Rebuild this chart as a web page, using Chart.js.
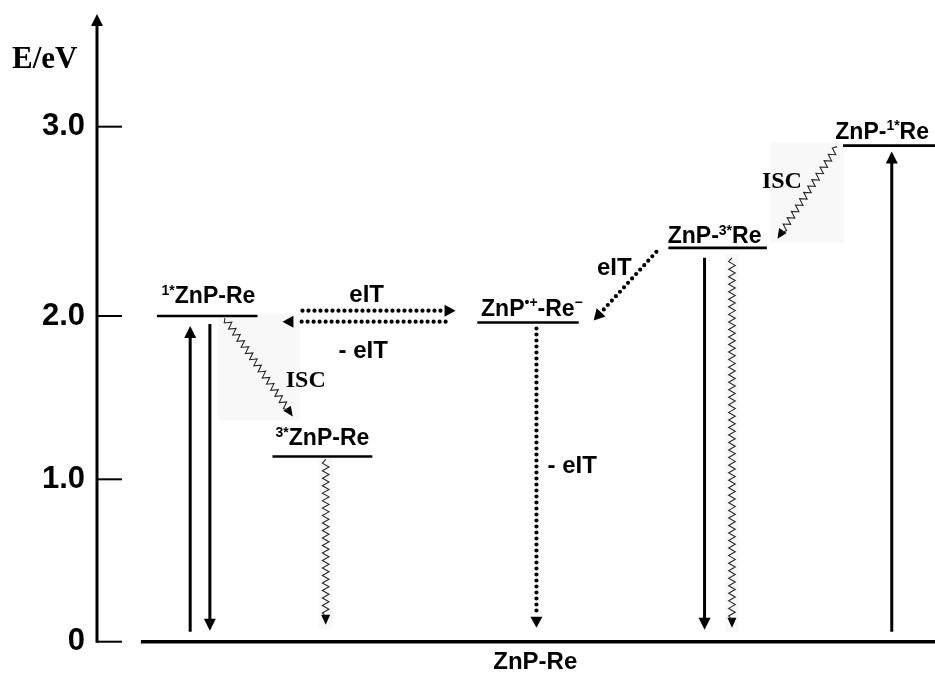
<!DOCTYPE html>
<html>
<head>
<meta charset="utf-8">
<script src="https://cdn.jsdelivr.net/npm/chart.js@4.4.1/dist/chart.umd.min.js"></script>
<style>
  html, body { margin: 0; padding: 0; background: #fff; }
</style>
</head>
<body>
<canvas id="levels" width="935" height="673"></canvas>
<script>
// energy levels (eV)
const states = ['ZnP-Re', '1*ZnP-Re', '3*ZnP-Re', 'ZnP•+-Re•-', 'ZnP-3*Re', 'ZnP-1*Re'];
const energies = [0, 2.0, 1.14, 1.96, 2.36, 2.90];

const tickValues = [0, 1, 2, 3];
const tickLabels = ['0', '1.0', '2.0', '3.0'];

// the drawing is not to scale: tick spacing grows towards the top
const axisBreaks = [[0, 0], [1, 0.2612], [2, 0.5239], [3, 0.8284], [3.564, 1]];

// label text, split into [text, isSuperscript]
const stateLabels = [
  [['ZnP-Re', 0]],
  [['1*', 1], ['ZnP-Re', 0]],
  [['3*', 1], ['ZnP-Re', 0]],
  [['ZnP', 0], ['•+', 1], ['-Re', 0], ['−', 1]],
  [['ZnP-', 0], ['3*', 1], ['Re', 0]],
  [['ZnP-', 0], ['1*', 1], ['Re', 0]]
];

// horizontal extent of each level (x axis runs 0..100)
const levelSpans = [[5.24, 100], [7.15, 19.15], [20.94, 32.86], [45.38, 57.49], [68.18, 79.94], [89.03, 100]];
// label anchor: x, px above the line, align
const labelAnchors = [[52.3, -27, 'center'], [13.3, 13, 'center'], [26.9, 11, 'center'],
                      [51.9, 7, 'center'], [73.7, 5, 'center'], [88.1, 7, 'left']];

// transitions between states
const arrows = [
  { kind: 'solid',  from: 0, to: 1, x: [11.12, 11.12], gap: [10, 10] },
  { kind: 'solid',  from: 1, to: 0, x: [13.47, 13.47], gap: [8, 11] },
  { kind: 'wavy',   from: 1, to: 2, x: [15.26, 23.36], gap: [2, 40] },
  { kind: 'wavy',   from: 2, to: 0, x: [27.29, 27.29], gap: [3, 17] },
  { kind: 'dotted', e: [2.028, 2.028], x: [24.52, 42.79] },
  { kind: 'dotted', e: [1.965, 1.965], x: [41.60, 22.13] },
  { kind: 'dotted', from: 3, to: 0, x: [52.44, 52.44], gap: [6, 14] },
  { kind: 'dotted', from: 4, to: 3, x: [66.75, 59.27], gap: [4, 2] },
  { kind: 'solid',  from: 4, to: 0, x: [72.50, 72.50], gap: [10, 12] },
  { kind: 'wavy',   from: 4, to: 0, x: [75.77, 75.77], gap: [10, 14] },
  { kind: 'solid',  from: 0, to: 5, x: [94.84, 94.84], gap: [10, 6] },
  { kind: 'wavy',   from: 5, to: 4, x: [88.32, 81.20], gap: [1, 9] }
];

const processLabels = [
  { text: 'eIT',   serif: false, x: 32.18, e: 2.076 },
  { text: '- eIT', serif: false, x: 31.76, e: 1.741 },
  { text: 'ISC',   serif: true,  x: 24.91, e: 1.563 },
  { text: '- eIT', serif: false, x: 56.70, e: 1.037 },
  { text: 'eIT',   serif: false, x: 61.73, e: 2.217 },
  { text: 'ISC',   serif: true,  x: 81.73, e: 2.675 }
];

const SANS = "'Liberation Sans', Arial, sans-serif";
const SERIF = "'Liberation Serif', 'Times New Roman', serif";

// linear scale with a piecewise mapping between the tick values
class BrokenEnergyScale extends Chart.LinearScale {
  toDecimal(v) {
    const b = axisBreaks;
    for (let i = 1; i < b.length; i++) {
      if (v <= b[i][0] || i === b.length - 1) {
        const [v0, d0] = b[i - 1], [v1, d1] = b[i];
        return d0 + (v - v0) * (d1 - d0) / (v1 - v0);
      }
    }
  }
  getPixelForValue(v) {
    return v == null ? NaN : this.getPixelForDecimal(this.toDecimal(v));
  }
  getValueForPixel(p) {
    const d = this.getDecimalForPixel(p);
    const b = axisBreaks;
    for (let i = 1; i < b.length; i++) {
      if (d <= b[i][1] || i === b.length - 1) {
        const [v0, d0] = b[i - 1], [v1, d1] = b[i];
        return v0 + (d - d0) * (v1 - v0) / (d1 - d0);
      }
    }
  }
}
BrokenEnergyScale.id = 'brokenEnergy';
BrokenEnergyScale.defaults = {};
Chart.register(BrokenEnergyScale);

function arrowEnds(a, xs, ys) {
  const e1 = a.e ? a.e[0] : energies[a.from];
  const e2 = a.e ? a.e[1] : energies[a.to];
  const p = { x: xs.getPixelForValue(a.x[0]), y: ys.getPixelForValue(e1) };
  const q = { x: xs.getPixelForValue(a.x[1]), y: ys.getPixelForValue(e2) };
  const g = a.gap || [0, 0];
  const s = Math.sign(q.y - p.y);
  p.y += s * g[0];
  q.y -= s * g[1];
  return [p, q];
}

function drawHead(ctx, p, q, len, half) {
  const ang = Math.atan2(q.y - p.y, q.x - p.x);
  const bx = q.x - len * Math.cos(ang), by = q.y - len * Math.sin(ang);
  const nx = -Math.sin(ang) * half, ny = Math.cos(ang) * half;
  ctx.beginPath();
  ctx.moveTo(q.x, q.y);
  ctx.lineTo(bx + nx, by + ny);
  ctx.lineTo(bx - nx, by - ny);
  ctx.closePath();
  ctx.fill();
  return { x: bx, y: by, ang: ang };
}

function drawZigzag(ctx, p, b, amp, wl) {
  const dx = b.x - p.x, dy = b.y - p.y;
  const len = Math.hypot(dx, dy);
  const ux = dx / len, uy = dy / len;
  const n = Math.max(2, Math.round(len / (wl / 2)));
  ctx.beginPath();
  ctx.moveTo(p.x, p.y);
  for (let i = 1; i < n; i++) {
    const t = i / n;
    const off = (i % 2 ? amp : -amp);
    ctx.lineTo(p.x + dx * t - uy * off, p.y + dy * t + ux * off);
  }
  ctx.lineTo(b.x, b.y);
  ctx.stroke();
}

function drawRich(ctx, parts, x, y, size, align) {
  const supSize = Math.round(size * 0.6);
  const fontOf = sup => 'bold ' + (sup ? supSize : size) + 'px ' + SANS;
  let total = 0;
  parts.forEach(([t, sup]) => { ctx.font = fontOf(sup); total += ctx.measureText(t).width; });
  let cx = align === 'left' ? x : x - total / 2;
  ctx.textAlign = 'left';
  ctx.textBaseline = 'alphabetic';
  parts.forEach(([t, sup]) => {
    ctx.font = fontOf(sup);
    ctx.fillText(t, cx, sup ? y - size * 0.36 : y);
    cx += ctx.measureText(t).width;
  });
}

const diagramPlugin = {
  id: 'diagram',
  beforeDatasetsDraw(chart) {
    const ctx = chart.ctx, xs = chart.scales.x, ys = chart.scales.y;
    ctx.save();
    ctx.fillStyle = '#f8f8f8';
    arrows.filter(a => a.kind === 'wavy').forEach(a => {
      const [p, q] = arrowEnds(a, xs, ys);
      const x0 = Math.min(p.x, q.x) - 7, x1 = Math.max(p.x, q.x) + 7;
      const y0 = Math.min(p.y, q.y) - 4, y1 = Math.max(p.y, q.y) + 4;
      ctx.fillRect(x0, y0, x1 - x0, y1 - y0);
    });
    ctx.restore();
  },
  afterDraw(chart) {
    const ctx = chart.ctx, xs = chart.scales.x, ys = chart.scales.y;
    const area = chart.chartArea;
    ctx.save();
    ctx.fillStyle = '#000';
    ctx.strokeStyle = '#000';

    // energy axis with arrow and inward ticks
    const ax = area.left;
    const tipY = area.top - 6;
    ctx.lineWidth = 3;
    ctx.beginPath();
    ctx.moveTo(ax, ys.getPixelForValue(0) + 1);
    ctx.lineTo(ax, tipY + 10);
    ctx.stroke();
    drawHead(ctx, { x: ax, y: tipY + 20 }, { x: ax, y: tipY }, 12, 6);
    ctx.lineWidth = 2;
    tickValues.forEach(v => {
      const y = ys.getPixelForValue(v);
      ctx.beginPath();
      ctx.moveTo(ax, y);
      ctx.lineTo(ax + 25, y);
      ctx.stroke();
    });
    ctx.font = 'bold 31px ' + SERIF;
    ctx.textAlign = 'left';
    ctx.textBaseline = 'alphabetic';
    ctx.fillText('E/eV', ax - 85, 68);

    // transitions
    arrows.forEach(a => {
      const [p, q] = arrowEnds(a, xs, ys);
      if (a.kind === 'solid') {
        const b = drawHead(ctx, p, q, 12, 6);
        ctx.lineWidth = 3;
        ctx.setLineDash([]);
        ctx.beginPath();
        ctx.moveTo(p.x, p.y);
        ctx.lineTo(b.x + Math.cos(b.ang), b.y + Math.sin(b.ang));
        ctx.stroke();
      } else if (a.kind === 'dotted') {
        const b = drawHead(ctx, p, q, 11, 6);
        ctx.lineWidth = 4.2;
        ctx.lineCap = 'round';
        ctx.setLineDash([0, 6]);
        ctx.beginPath();
        ctx.moveTo(p.x, p.y);
        ctx.lineTo(b.x - 3 * Math.cos(b.ang), b.y - 3 * Math.sin(b.ang));
        ctx.stroke();
        ctx.setLineDash([]);
        ctx.lineCap = 'butt';
      } else {
        const b = drawHead(ctx, p, q, 10, 4.5);
        ctx.strokeStyle = '#2a2a2a';
        ctx.lineWidth = 1.1;
        drawZigzag(ctx, p, { x: b.x + 2 * Math.cos(b.ang), y: b.y + 2 * Math.sin(b.ang) }, 3.3, 7.5);
        ctx.strokeStyle = '#000';
      }
    });

    // state labels
    ctx.fillStyle = '#000';
    stateLabels.forEach((parts, i) => {
      const [lx, above, align] = labelAnchors[i];
      const x = xs.getPixelForValue(lx);
      const y = ys.getPixelForValue(energies[i]) - above;
      drawRich(ctx, parts, x, y, i === 0 ? 24 : 23, align);
    });

    // process labels
    ctx.textAlign = 'center';
    ctx.textBaseline = 'alphabetic';
    processLabels.forEach(l => {
      ctx.font = l.serif ? 'bold 24px ' + SERIF : 'bold 24px ' + SANS;
      ctx.fillText(l.text, xs.getPixelForValue(l.x), ys.getPixelForValue(l.e));
    });
    ctx.restore();
  }
};

const datasets = states.map((name, i) => ({
  label: name,
  data: [{ x: levelSpans[i][0], y: energies[i] }, { x: levelSpans[i][1], y: energies[i] }],
  borderColor: '#000',
  borderWidth: i === 0 ? 3.5 : 2.6,
  pointRadius: 0,
  fill: false,
  clip: false
}));

const chart = new Chart(document.getElementById('levels').getContext('2d'), {
  type: 'line',
  data: { datasets: datasets },
  options: {
    responsive: false,
    animation: false,
    events: [],
    layout: { padding: { top: 20, bottom: 31.3, left: 0, right: 0 } },
    plugins: { legend: { display: false }, tooltip: { enabled: false } },
    scales: {
      x: { type: 'linear', min: 0, max: 100, display: false },
      y: {
        type: 'brokenEnergy',
        min: 0,
        max: 3.564,
        grid: { display: false, drawTicks: false },
        border: { display: false },
        afterBuildTicks: scale => { scale.ticks = tickValues.map(v => ({ value: v })); },
        afterFit: scale => {
          scale.width = 97;
          scale.paddingTop = 0;
          scale.paddingBottom = 0;
        },
        ticks: {
          padding: 12,
          color: '#000',
          font: { family: SANS, size: 31, weight: 'bold', lineHeight: 1.1 },
          callback: (v) => tickLabels[tickValues.indexOf(v)]
        }
      }
    }
  },
  plugins: [diagramPlugin]
});
</script>
</body>
</html>
